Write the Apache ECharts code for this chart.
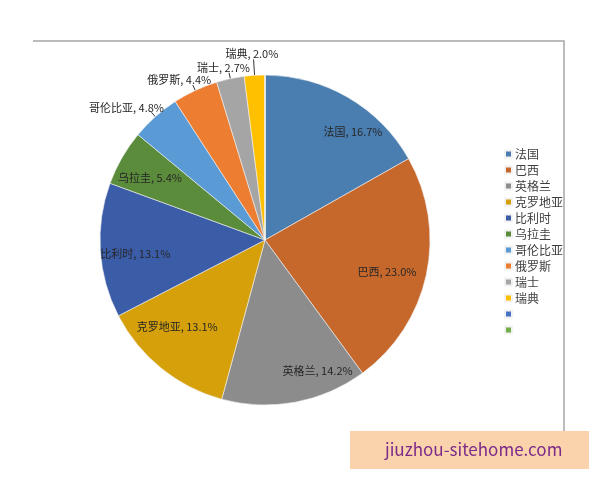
<!DOCTYPE html>
<html>
<head>
<meta charset="utf-8">
<script src="https://cdn.jsdelivr.net/npm/echarts@6/dist/echarts.min.js"></script>
<style>
    html, body { margin: 0; padding: 0; background: #fff; }
    #chart { width: 600px; height: 480px; }
</style>
</head>
<body>
<div id="chart"></div>
<script>
// 国家 / 占比
const countries = ['法国', '巴西', '英格兰', '克罗地亚', '比利时', '乌拉圭', '哥伦比亚', '俄罗斯', '瑞士', '瑞典', ' ', '  '];
const shares = [16.7, 23.0, 14.2, 13.1, 13.1, 5.4, 4.8, 4.4, 2.7, 2.0, 0, 0];
const colors = ['#4a7eb1', '#c6682b', '#8c8c8c', '#d5a00a', '#3b5da8', '#5b8c3b', '#5b9bd5', '#ed7d31', '#a5a5a5', '#ffc000', '#4472c4', '#70ad47'];
// 大块在扇区内标注, 小块在外面引线标注
const insideNames = ['法国', '巴西', '英格兰', '克罗地亚', '比利时', '乌拉圭'];
// 内部标签微调 (Excel 的 "最佳匹配" 并不在扇区正中)
const insideOffsets = {
    '法国': [20, 8],
    '巴西': [-10, 3],
    '英格兰': [28, -2],
    '克罗地亚': [-3, -18],
    '比利时': [5, 5],
    '乌拉圭': [2, 5],
};

const font = '"Noto Sans CJK SC", "Microsoft YaHei", sans-serif';
const fmt = p => p.name + ', ' + p.value.toFixed(1) + '%';

const pieData = countries.map((name, i) => {
    const outside = shares[i] > 0 && insideNames.indexOf(name) < 0;
    return {
        name: name,
        value: shares[i],
        itemStyle: { color: colors[i] },
        label: { show: outside },
        // 瑞典的引线拉长一点, 免得和瑞士重叠
        labelLine: { show: outside, length: name === '瑞典' ? 16 : 6 },
    };
});

// 透明环只用于放置内部标签
const labelData = countries.map((name, i) => ({
    name: name,
    value: shares[i],
    label: { show: insideNames.indexOf(name) >= 0, offset: insideOffsets[name] || [0, 0] },
}));

// 外部标签: 放在引线末端外侧, 去掉水平段
const outsideLayout = params => {
    const pts = params.labelLinePoints;
    if (!pts) return {};
    const p0 = pts[0], p1 = pts[1];
    const dx = p1[0] - p0[0], dy = p1[1] - p0[1];
    const len = Math.sqrt(dx * dx + dy * dy) || 1;
    const w = params.labelRect.width, h = params.labelRect.height;
    return {
        x: p1[0] + dx / len * w / 2,
        y: p1[1] + dy / len * h / 2,
        align: 'center',
        verticalAlign: 'middle',
        labelLinePoints: [p0, p1, p1],
    };
};

const chart = echarts.init(document.getElementById('chart'));
chart.setOption({
    backgroundColor: '#fff',
    animation: false,
    legend: {
        orient: 'vertical',
        left: 499,
        top: 142,
        icon: 'rect',
        itemWidth: 7,
        itemHeight: 7,
        itemGap: 2,
        data: countries,
        textStyle: { fontFamily: font, fontSize: 12, lineHeight: 14, color: '#404040', padding: [0, 0, 0, -2] },
    },
    graphic: [
        { type: 'polyline', silent: true, shape: { points: [[33, 41], [564, 41], [564, 438]] }, style: { stroke: '#a6a6a6', lineWidth: 1.5, fill: null } },
        { type: 'rect', silent: true, shape: { x: 350, y: 431, width: 239, height: 38 }, style: { fill: '#fad2ab' } },
        { type: 'text', silent: true, left: 385, top: 441, style: { text: 'jiuzhou-sitehome.com', fill: '#7a2a8a', font: '17px ' + font } },
    ],
    series: [
        {
            type: 'pie',
            center: [265, 240],
            radius: 165,
            startAngle: 90,
            clockwise: true,
            avoidLabelOverlap: false,
            itemStyle: { borderColor: '#f2f2f2', borderWidth: 0.6 },
            label: {
                position: 'outside',
                formatter: fmt,
                fontFamily: font,
                fontSize: 11,
                color: '#262626',
            },
            labelLine: {
                length: 6,
                length2: 0,
                lineStyle: { color: '#000', width: 0.8 },
            },
            labelLayout: outsideLayout,
            data: pieData,
        },
        {
            type: 'pie',
            silent: true,
            legendHoverLink: false,
            center: [265, 240],
            radius: [100, 164],
            startAngle: 90,
            itemStyle: { color: 'rgba(0,0,0,0)' },
            label: {
                position: 'inside',
                formatter: fmt,
                fontFamily: font,
                fontSize: 11,
                color: '#262626',
            },
            labelLine: { show: false },
            data: labelData,
        },
    ],
});
</script>
</body>
</html>
